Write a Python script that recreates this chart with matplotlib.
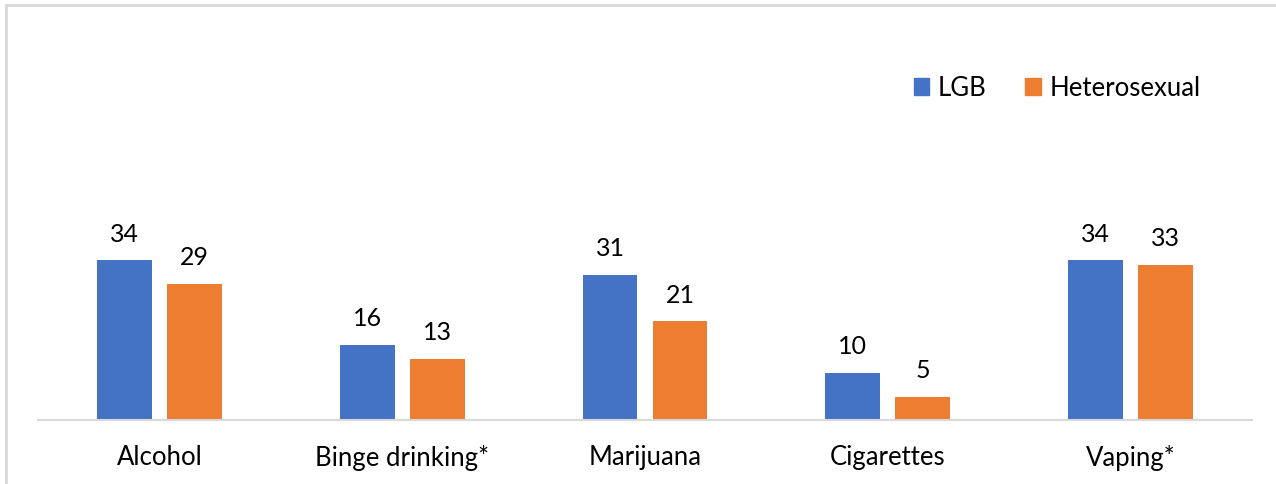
import numpy as np
import matplotlib
matplotlib.use('Agg')
import matplotlib.pyplot as plt
from matplotlib.patches import Rectangle, Patch

plt.rcParams['font.family'] = ['Lato', 'DejaVu Sans']

categories = ["Alcohol", "Binge drinking*", "Marijuana", "Cigarettes", "Vaping*"]
lgb = [34, 16, 31, 10, 34]
hetero = [29, 13, 21, 5, 33]

blue = '#4472C4'
orange = '#ED7D31'
grid_grey = '#D9D9D9'

fig = plt.figure(figsize=(12.76, 4.84), dpi=100)
W, H = 1276, 484

# outer chart frame (runs off the right and bottom edges)
fig.patches.append(Rectangle((6 / W, -0.1), 1.2, 1 - 5 / H + 0.1, transform=fig.transFigure,
                             fill=False, edgecolor=grid_grey, linewidth=2))

ax = fig.add_axes([38 / W, 64 / H, (1252 - 38) / W, (420 - 40) / H])

x = np.arange(len(categories))
width = 0.226
offset = (width + 0.062) / 2
b1 = ax.bar(x - offset, lgb, width, color=blue, label='LGB')
b2 = ax.bar(x + offset, hetero, width, color=orange, label='Heterosexual')

for bars, vals in ((b1, lgb), (b2, hetero)):
    for rect, v in zip(bars, vals):
        ax.text(rect.get_x() + rect.get_width() / 2, v + 4.0, str(v),
                ha='center', va='baseline', fontsize=18, color='#000000')

ax.set_xlim(-0.5, len(categories) - 0.5)
ax.set_ylim(0, 81)
ax.set_xticks(x)
ax.set_xticklabels(categories, fontsize=18.5)
ax.tick_params(axis='x', length=0, pad=18)
ax.set_yticks([])
for side in ('top', 'right', 'left'):
    ax.spines[side].set_visible(False)
ax.spines['bottom'].set_color(grid_grey)
ax.spines['bottom'].set_linewidth(1.5)

handles = [Patch(color=blue, label='LGB'), Patch(color=orange, label='Heterosexual')]
fig.legend(handles=handles, loc='center right', bbox_to_anchor=(1224 / W, 1 - 88 / H),
           ncol=2, frameon=False, fontsize=18.5, handlelength=0.6, handleheight=0.6,
           handletextpad=0.35, columnspacing=1.5)

fig.savefig('out.png', dpi=100, facecolor='white')
